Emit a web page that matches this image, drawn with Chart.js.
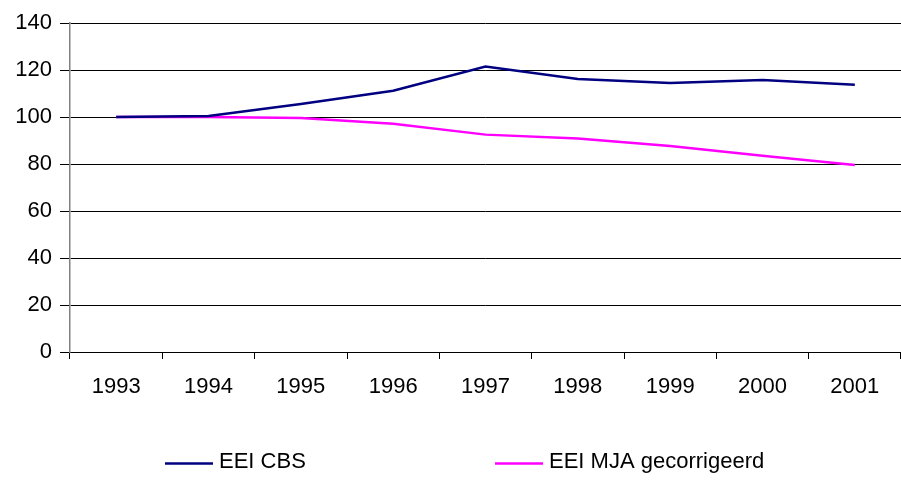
<!DOCTYPE html>
<html>
<head>
<meta charset="utf-8">
<script src="https://cdn.jsdelivr.net/npm/chart.js@4"></script>
<style>
  html, body { margin: 0; padding: 0; background: #fff; }
  #wrap { width: 901px; height: 480px; }
</style>
</head>
<body>
<div id="wrap"><canvas id="eei"></canvas></div>
<script>
var years = ['1993', '1994', '1995', '1996', '1997', '1998', '1999', '2000', '2001']
var eeiCbs = [100, 100.4, 105.5, 111.2, 121.5, 116.2, 114.5, 115.7, 113.7]
var eeiMja = [100, 100, 99.6, 97.1, 92.5, 90.9, 87.7, 83.5, 79.6]
var yTicks = [0, 20, 40, 60, 80, 100, 120, 140]

var font = 'Liberation Sans, Arial, sans-serif'

// legend drawn by hand: wide gap between the two items as in the original
var lineLegend = {
  id: 'lineLegend',
  afterDraw: function (chart) {
    var c = chart.ctx
    var spots = [165, 495]
    c.save()
    c.font = '22px ' + font
    c.textBaseline = 'middle'
    chart.data.datasets.forEach(function (ds, i) {
      var x = spots[i]
      c.strokeStyle = ds.borderColor
      c.lineWidth = 2.5
      c.beginPath()
      c.moveTo(x, 463.5)
      c.lineTo(x + 48, 463.5)
      c.stroke()
      c.fillStyle = '#000'
      c.fillText(ds.label, x + 54, 462)
    })
    c.restore()
  }
}

var ctx = document.getElementById('eei')
new Chart(ctx, {
  type: 'line',
  data: {
    labels: years,
    datasets: [
      {
        label: 'EEI CBS',
        data: eeiCbs,
        borderColor: '#000080',
        backgroundColor: '#000080',
        borderWidth: 2.5,
        pointRadius: 0,
        tension: 0,
      },
      {
        label: 'EEI MJA gecorrigeerd',
        data: eeiMja,
        borderColor: '#FF00FF',
        backgroundColor: '#FF00FF',
        borderWidth: 2.5,
        pointRadius: 0,
        tension: 0,
      },
    ],
  },
  options: {
    responsive: true,
    maintainAspectRatio: false,
    animation: false,
    layout: {
      padding: { top: 23, left: 0, right: -2, bottom: 78 },
    },
    plugins: {
      legend: { display: false },
      tooltip: { enabled: false },
    },
    scales: {
      x: {
        offset: true,
        grid: {
          offset: true,
          drawOnChartArea: false,
          tickLength: 7,
          color: '#000',
        },
        border: { color: '#000' },
        ticks: {
          color: '#000',
          padding: 15,
          maxRotation: 0,
          font: { family: font, size: 22 },
        },
        afterFit: function (scale) { scale.height = 50 },
      },
      y: {
        min: 0,
        max: 140,
        afterBuildTicks: function (scale) {
          scale.ticks = yTicks.map(function (v) { return { value: v } })
        },
        grid: {
          color: '#000',
          tickLength: 10,
        },
        border: { color: '#808080', width: 1.5 },
        ticks: {
          color: '#000',
          padding: 8,
          font: { family: font, size: 22 },
        },
        afterFit: function (scale) { scale.width = 70 },
      },
    },
  },
  plugins: [lineLegend],
})
</script>
</body>
</html>
